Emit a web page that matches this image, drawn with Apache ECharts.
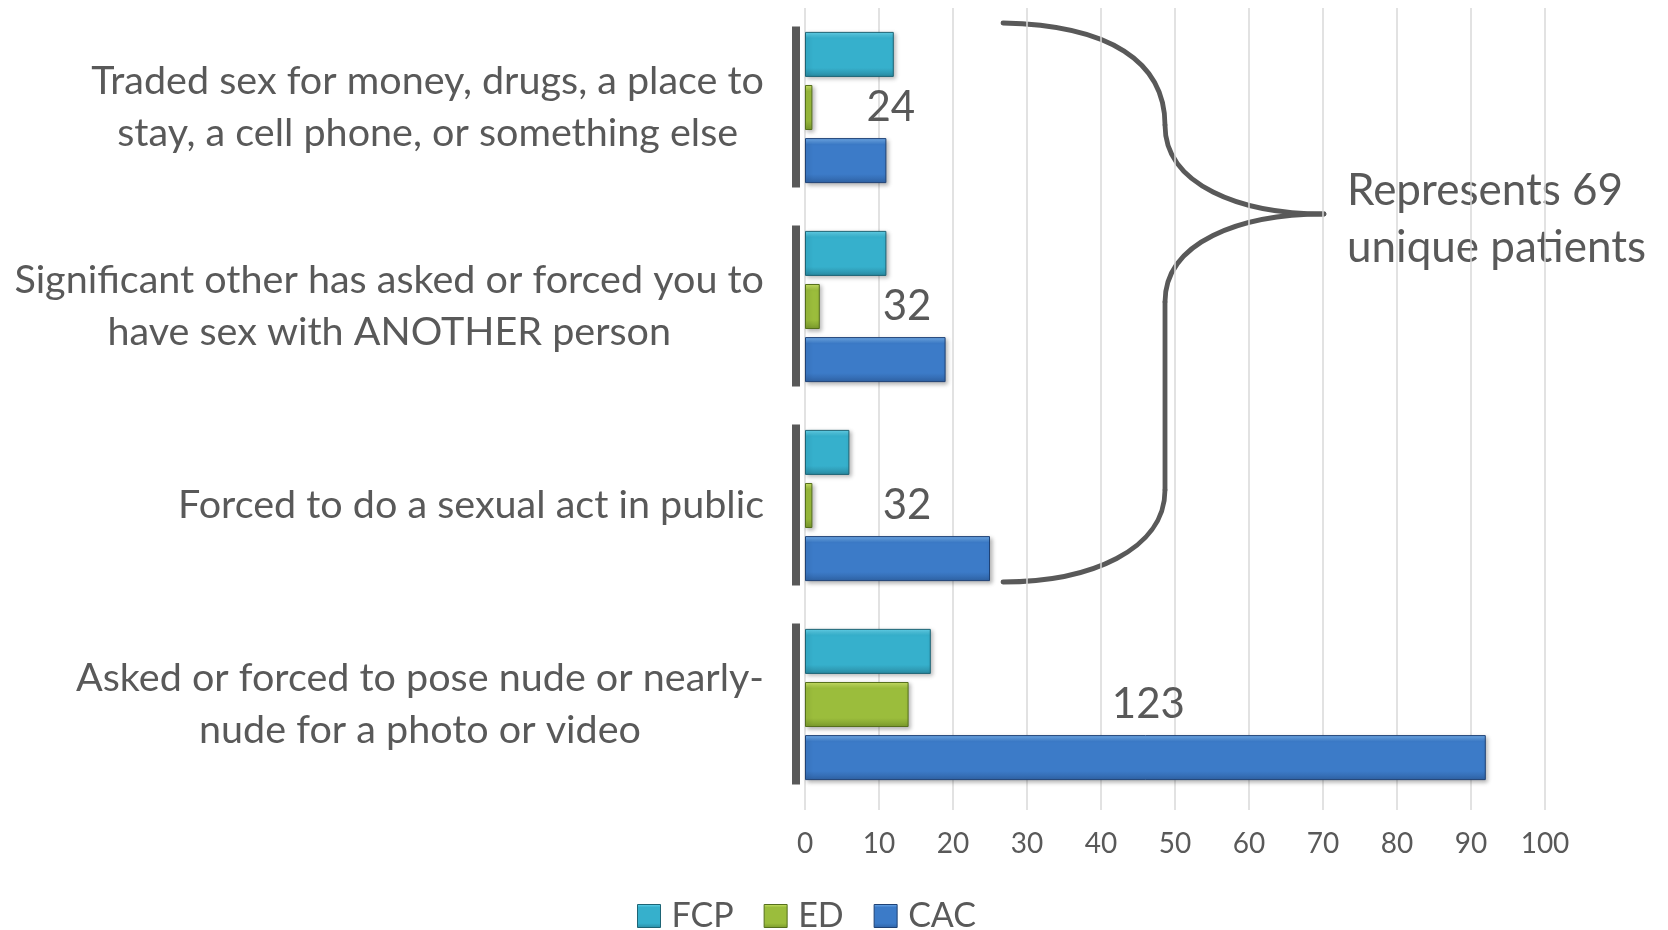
<!DOCTYPE html>
<html>
<head>
<meta charset="utf-8">
<script src="https://cdn.jsdelivr.net/npm/echarts@6/dist/echarts.min.js"></script>
<style>
html,body{margin:0;padding:0;background:#fff;}
#main{width:1668px;height:930px;}
</style>
</head>
<body>
<div id="main"></div>
<script>
const categories = [
  'Traded sex for money, drugs, a place to\nstay, a cell phone, or something else',
  'Significant other has asked or forced you to\nhave sex with ANOTHER person',
  'Forced to do a sexual act in public',
  'Asked or forced to pose nude or nearly-\nnude for a photo or video'
];
const seriesNames = ['FCP', 'ED', 'CAC'];
const fcpValues = [12, 11, 6, 17];
const edValues = [1, 2, 1, 14];
const cacValues = [11, 19, 25, 92];
const totals = [24, 32, 32, 123];
const totalLabelAt = [11.6, 13.8, 13.8, 46.4];
const axisMin = 0, axisMax = 100, axisInterval = 10;
const braceText = 'Represents 69\nunique patients';

const FONT = 'Lato';
const TXT = '#595959';

function grad(top, mid, bottom) {
  return {
    type: 'linear', x: 0, y: 0, x2: 0, y2: 1,
    colorStops: [
      {offset: 0, color: top},
      {offset: 0.14, color: mid},
      {offset: 0.8, color: mid},
      {offset: 1, color: bottom}
    ]
  };
}
const styles = {
  FCP: {color: grad('#66d6ee', '#36b0cc', '#2a8ba3'), borderColor: '#1d6475'},
  ED: {color: grad('#cde56a', '#9bbd3c', '#7a9a2c'), borderColor: '#556f1c'},
  CAC: {color: grad('#74b0ee', '#3c7bc8', '#2f62a4'), borderColor: '#1f4275'}
};
const valuesByName = {FCP: fcpValues, ED: edValues, CAC: cacValues};

const chart = echarts.init(document.getElementById('main'));

const barSeries = seriesNames.map(name => ({
  name: name,
  type: 'bar',
  data: valuesByName[name],
  barGap: '18%',
  barCategoryGap: '24%',
  itemStyle: {
    color: styles[name].color,
    borderColor: styles[name].borderColor,
    borderWidth: 1,
    shadowBlur: 4,
    shadowOffsetX: 2,
    shadowOffsetY: 2,
    shadowColor: 'rgba(0,0,0,0.28)'
  },
  emphasis: {disabled: true}
}));

const stroke = {fill: 'none', stroke: '#595959', lineWidth: 4.8, lineCap: 'round'};

const option = {
  animation: false,
  backgroundColor: '#ffffff',
  grid: {left: 805, right: 123, top: 8, bottom: 126, containLabel: false},
  legend: {
    data: seriesNames.map(n => ({name: n, itemStyle: {color: styles[n].color, borderColor: styles[n].borderColor, borderWidth: 1}})),
    left: 632,
    top: 894,
    itemWidth: 23,
    itemHeight: 23,
    itemGap: 30,
    icon: 'rect',
    textStyle: {fontFamily: FONT, fontSize: 34, color: TXT, padding: [0, 0, 0, 6]}
  },
  xAxis: {
    type: 'value',
    min: axisMin,
    max: axisMax,
    interval: axisInterval,
    axisLine: {show: false},
    axisTick: {show: true, length: 6, lineStyle: {color: '#d9d9d9', width: 1.5}},
    splitLine: {show: true, lineStyle: {color: '#d9d9d9', width: 1.5}},
    axisLabel: {fontFamily: FONT, fontSize: 28, color: TXT, margin: 26}
  },
  yAxis: {
    type: 'category',
    inverse: true,
    data: categories,
    axisLine: {show: false},
    axisTick: {show: false},
    axisLabel: {
      margin: 41,
      align: 'right',
      formatter: v => v.split('\n').map(l => '{c|' + l + '}').join('\n'),
      rich: {c: {align: 'center', fontFamily: FONT, fontSize: 39.5, color: TXT, lineHeight: 52}}
    }
  },
  series: barSeries.concat([
    {
      type: 'custom',
      name: 'axisSegments',
      silent: true,
      clip: false,
      data: categories.map((c, i) => [0, i]),
      encode: {x: 0, y: 1},
      renderItem: (params, api) => {
        const p = api.coord([0, api.value(1)]);
        return {type: 'rect', shape: {x: p[0] - 13, y: p[1] - 81, width: 8, height: 161}, style: {fill: '#595959'}};
      }
    },
    {
      type: 'custom',
      name: 'totals',
      silent: true,
      clip: false,
      z: 5,
      data: totals.map((t, i) => [totalLabelAt[i], i, t]),
      encode: {x: 0, y: 1},
      renderItem: (params, api) => {
        const p = api.coord([api.value(0), api.value(1)]);
        return {type: 'text', x: p[0], y: p[1], style: {text: String(api.value(2)), fontFamily: FONT, fontSize: 42, fill: TXT, align: 'center', verticalAlign: 'middle'}};
      }
    }
  ]),
  graphic: [
    {type: 'bezierCurve', silent: true, shape: {x1: 1003, y1: 23, cpx1: 1110, cpy1: 25, cpx2: 1165, cpy2: 62, x2: 1165, y2: 125}, style: stroke},
    {type: 'bezierCurve', silent: true, shape: {x1: 1165, y1: 125, cpx1: 1165, cpy1: 185, cpx2: 1240, cpy2: 214, x2: 1324, y2: 214}, style: stroke},
    {type: 'bezierCurve', silent: true, shape: {x1: 1324, y1: 214, cpx1: 1240, cpy1: 214, cpx2: 1165, cpy2: 242, x2: 1165, y2: 302}, style: stroke},
    {type: 'line', silent: true, shape: {x1: 1165, y1: 302, x2: 1165, y2: 490}, style: stroke},
    {type: 'bezierCurve', silent: true, shape: {x1: 1165, y1: 490, cpx1: 1165, cpy1: 550, cpx2: 1090, cpy2: 582, x2: 1003, y2: 582}, style: stroke},
    {
      type: 'text',
      x: 1347, y: 219,
      silent: true,
      style: {text: braceText, fontFamily: FONT, fontSize: 44, fill: TXT, lineHeight: 57, align: 'left', verticalAlign: 'middle'}
    }
  ]
};
chart.setOption(option);
</script>
</body>
</html>
